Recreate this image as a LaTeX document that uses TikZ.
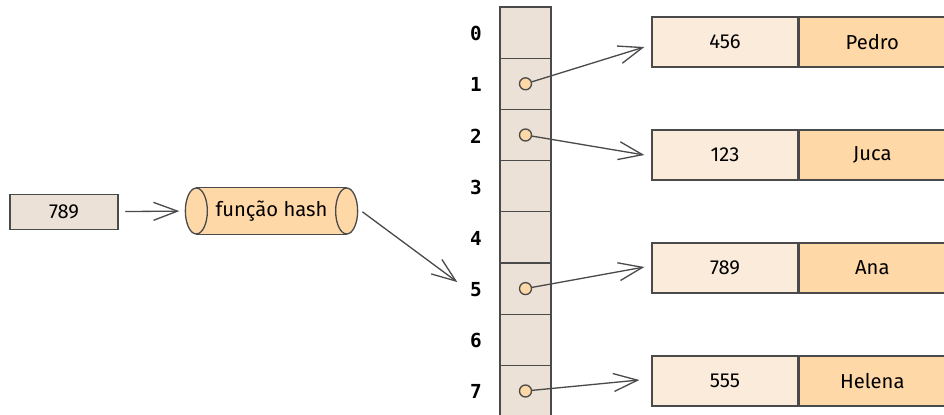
\documentclass[tikz,border=0pt]{standalone}
\usepackage{fontspec}
\setmainfont{Fira Sans}
\setmonofont{DejaVu Sans Mono}
\usetikzlibrary{arrows.meta,positioning,calc}
\definecolor{peach}{HTML}{FFD8A8}
\definecolor{slotbg}{HTML}{EBE1D6}
\definecolor{keybg}{HTML}{FBEBDB}
\definecolor{inkline}{HTML}{4A4A4A}
\begin{document}
\begin{tikzpicture}[x=0.02cm,y=0.02cm,line width=0.75pt,draw=inkline]
	\tikzstyle{every node}=[inner sep=0pt,text=black,font=\fontsize{11.5}{13}\selectfont]
	\tikzstyle{cell}=[draw,fill=slotbg,minimum width=1.02cm,minimum height=1.024cm]
	\tikzstyle{idx}=[font=\ttfamily\bfseries\fontsize{11}{13}\selectfont]
	\tikzstyle{dot}=[circle,draw,fill=peach,minimum size=0.24cm]
	\tikzstyle{keypart}=[draw,fill=keybg,minimum width=2.92cm,minimum height=1.0cm]
	\tikzstyle{valpart}=[draw,fill=peach,minimum width=2.92cm,minimum height=1.0cm]
	\tikzstyle{arr}=[-{Straight Barb[length=0.48cm,width=0.36cm]},draw=inkline,line cap=round]
	\useasboundingbox (0,0) rectangle (944,-415);
	% input key and hash function
	\node[draw,fill=slotbg,minimum width=2.16cm,minimum height=0.7cm] (key) at (64,-212) {789};
	\node[fill=peach,minimum width=2.98cm,minimum height=0.92cm] (hash) at (271.5,-211) {};
	\draw[fill=peach] (hash.west) ellipse[x radius=0.22cm,y radius=0.46cm];
	\draw[fill=peach] (hash.east) ellipse[x radius=0.22cm,y radius=0.46cm];
	\draw (hash.north west) -- (hash.north east) (hash.south west) -- (hash.south east);
	\node at (hash.center) {função hash};
	% table slots 0..7
	\foreach \i in {0,...,7}{
		\node[cell] (c\i) at (525.5,-32.6-51.2*\i) {};
		\node[idx] (l\i) at (476,-33.5-51.2*\i) {\i};
	}
	\node[dot] (d1) at (c1.center) {};
	\node[dot] (d2) at (c2.center) {};
	\node[dot] (d5) at (c5.center) {};
	\node[dot] (d7) at (c7.center) {};
	% entries
	\node[keypart] (k1) at (725,-42) {456};
	\node[valpart,right=0pt of k1] (v1) {Pedro};
	\node[keypart] (k2) at (725,-155) {123};
	\node[valpart,right=0pt of k2] (v2) {Juca};
	\node[keypart] (k3) at (725,-268) {789};
	\node[valpart,right=0pt of k3] (v3) {Ana};
	\node[keypart] (k4) at (725,-381) {555};
	\node[valpart,right=0pt of k4] (v4) {Helena};
	% arrows
	\draw[arr,shorten <=0.14cm,shorten >=0.34cm] (key) -- (hash.west);
	\draw[arr] ($(hash.east)+(16,-1)$) -- ($(c5.west)+(-42,6.5)$);
	\draw[arr] (d1) -- ($(k1.west)+(-7,-5)$);
	\draw[arr] (d2) -- ($(k2.west)+(-7,0)$);
	\draw[arr] (d5) -- ($(k3.west)+(-7,1)$);
	\draw[arr] (d7) -- ($(k4.west)+(-12,1)$);
\end{tikzpicture}
\end{document}
